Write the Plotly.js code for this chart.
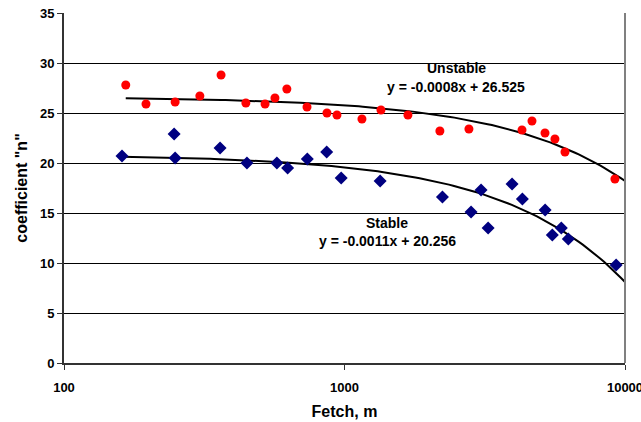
<!DOCTYPE html>
<html>
<head>
<meta charset="utf-8">
<script src="https://cdn.plot.ly/plotly-3.0.1.min.js"></script>
<style>html,body{margin:0;padding:0;background:#fff;}#chart{width:641px;height:422px;}</style>
</head>
<body>
<div id="chart"></div>
<script>
// Unstable (red circles)
const unstableFetch = [166, 196, 249, 305, 363, 445, 521, 565, 623, 735, 866, 940, 1154, 1349, 1683, 2188, 2777, 4293, 4660, 5185, 5626, 6110, 9206];
const unstableN     = [27.8, 25.9, 26.1, 26.7, 28.8, 26.0, 25.9, 26.5, 27.4, 25.6, 25.0, 24.8, 24.4, 25.3, 24.8, 23.2, 23.4, 23.3, 24.2, 23.0, 22.4, 21.1, 18.4];
// Stable (blue diamonds)
const stableFetch = [161, 247, 249, 360, 449, 574, 627, 737, 864, 973, 1340, 2234, 2826, 3068, 3251, 3958, 4306, 5192, 5507, 5928, 6278, 9296];
const stableN     = [20.7, 22.9, 20.5, 21.5, 20.0, 20.0, 19.5, 20.4, 21.1, 18.5, 18.2, 16.6, 15.1, 17.3, 13.5, 17.9, 16.4, 15.3, 12.8, 13.5, 12.4, 9.8];
// Linear trendlines (as drawn on the log axis), slope / intercept
const unstableTrend = {slope: -0.000841, intercept: 26.61, from: 166, to: 10000};
const stableTrend   = {slope: -0.001274, intercept: 20.84, from: 161, to: 10000};
const eqUnstable = "y = -0.0008x + 26.525";
const eqStable   = "y = -0.0011x + 20.256";
const xTicks = [100, 1000, 10000];

function trendLine(t) {
  const xs = [], ys = [];
  const n = 120;
  const a = Math.log10(t.from), b = Math.log10(t.to);
  for (let i = 0; i <= n; i++) {
    const x = Math.pow(10, a + (b - a) * i / n);
    xs.push(x); ys.push(t.slope * x + t.intercept);
  }
  return {xs, ys};
}
const tu = trendLine(unstableTrend), ts = trendLine(stableTrend);

const F = 'Liberation Sans, Arial, sans-serif';
const data = [
  {x: tu.xs, y: tu.ys, mode: 'lines', line: {color: '#000', width: 2}, hoverinfo: 'skip'},
  {x: ts.xs, y: ts.ys, mode: 'lines', line: {color: '#000', width: 2}, hoverinfo: 'skip'},
  {x: unstableFetch, y: unstableN, mode: 'markers', marker: {symbol: 'circle', color: '#FF0000', size: 9}},
  {x: stableFetch, y: stableN, mode: 'markers', marker: {symbol: 'diamond', color: '#000080', size: 10}}
];

const annFont = {family: F, size: 14, weight: 700, color: '#000'};
const layout = {
  width: 641, height: 422,
  margin: {l: 64, r: 16, t: 13, b: 59},
  paper_bgcolor: '#fff', plot_bgcolor: '#fff',
  showlegend: false,
  font: {family: F, size: 13, color: '#000', weight: 700},
  xaxis: {
    type: 'log', range: [2, 4],
    tickvals: xTicks, ticktext: xTicks.map(String),
    ticks: 'outside', ticklen: 5, tickcolor: '#333',
    ticklabelstandoff: 6, ticklabeloverflow: 'allow',
    showgrid: false, zeroline: false,
    showline: true, linecolor: '#333', linewidth: 2,
    tickfont: {family: F, size: 13, weight: 700},
    title: {text: 'Fetch, m', font: {family: F, size: 16, weight: 700}, standoff: 12}
  },
  yaxis: {
    range: [0, 35], dtick: 5, tick0: 0,
    ticks: 'outside', ticklen: 5, tickcolor: '#333',
    showgrid: true, gridcolor: '#000', gridwidth: 1,
    zeroline: false,
    showline: true, linecolor: '#333', linewidth: 2,
    tickfont: {family: F, size: 13, weight: 700},
    title: {text: 'coefficient "n"', font: {family: F, size: 16, weight: 700}, standoff: 8}
  },
  shapes: [
    {type: 'line', xref: 'paper', yref: 'paper', x0: 1, x1: 1, y0: 0, y1: 1, line: {color: '#808080', width: 2}}
  ],
  annotations: [
    {x: 0.699, y: 29.47, xref: 'paper', yref: 'y', xanchor: 'center', yanchor: 'middle', text: 'Unstable', showarrow: false, font: annFont},
    {x: 0.699, y: 27.63, xref: 'paper', yref: 'y', xanchor: 'center', yanchor: 'middle', text: eqUnstable, showarrow: false, font: annFont},
    {x: 0.576, y: 13.97, xref: 'paper', yref: 'y', xanchor: 'center', yanchor: 'middle', text: 'Stable', showarrow: false, font: annFont},
    {x: 0.576, y: 12.2, xref: 'paper', yref: 'y', xanchor: 'center', yanchor: 'middle', text: eqStable, showarrow: false, font: annFont}
  ]
};

Plotly.newPlot('chart', data, layout, {displayModeBar: false, staticPlot: true});
</script>
</body>
</html>
